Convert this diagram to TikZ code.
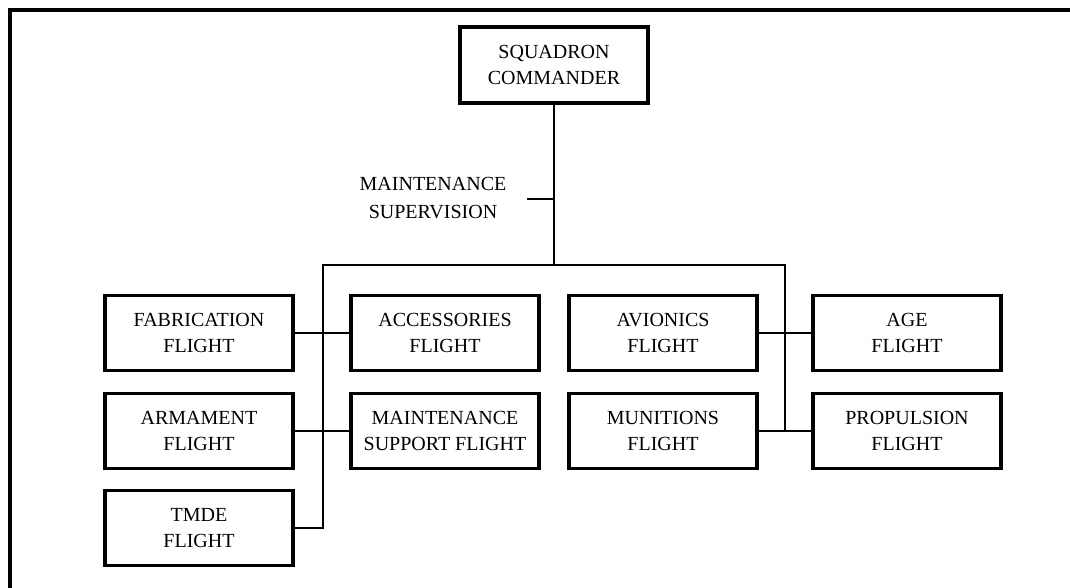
\documentclass[tikz,border=0pt]{standalone}
\usepackage{fontspec}
\setmainfont{Liberation Serif}
\begin{document}
\begin{tikzpicture}[x=0.75pt,y=-0.75pt,
  unitbox/.style={draw, line width=2.4pt, minimum width=141pt, minimum height=56.5pt, inner sep=0pt, align=center, font=\fontsize{15}{19.5}\selectfont},
  topbox/.style={unitbox, minimum width=141pt, minimum height=57pt},
  wire/.style={line width=2.1pt},
  lbl/.style={align=center, inner sep=0pt, font=\fontsize{15}{21}\selectfont}]
\useasboundingbox (0,0) rectangle (1070,587);
\begin{scope}
\clip (0,0) rectangle (1070,587);
\draw[line width=2.3pt] (10,600) -- (10,10) -- (1080,10);
\end{scope}
% nodes
\node[topbox] (sc) at (554,65) {SQUADRON\\COMMANDER};
\node[lbl] (ms) at (433,198) {MAINTENANCE\\SUPERVISION};
\node[unitbox] (fab) at (199,333) {FABRICATION\\FLIGHT};
\node[unitbox] (arm) at (199,431) {ARMAMENT\\FLIGHT};
\node[unitbox] (tmde) at (199,528) {TMDE\\FLIGHT};
\node[unitbox] (acc) at (445,333) {ACCESSORIES\\FLIGHT};
\node[unitbox] (msf) at (445,431) {MAINTENANCE\\SUPPORT FLIGHT};
\node[unitbox] (avi) at (663,333) {AVIONICS\\FLIGHT};
\node[unitbox] (mun) at (663,431) {MUNITIONS\\FLIGHT};
\node[unitbox] (age) at (907,333) {AGE\\FLIGHT};
\node[unitbox] (prop) at (907,431) {PROPULSION\\FLIGHT};
% coordinates
\coordinate (busm) at (554,265);
\coordinate (busl) at (323,265);
\coordinate (busr) at (785,265);
\coordinate (tick) at (527,199);
\coordinate (tickj) at (554,199);
% connectors
\draw[wire] (sc.south) -- (busm);
\draw[wire] (tick) -- (tickj);
\draw[wire] (tmde.east) -| (busl) -- (busr) |- (mun.east);
\draw[wire] (fab.east) -- (acc.west);
\draw[wire] (arm.east) -- (msf.west);
\draw[wire] (avi.east) -- (age.west);
\draw[wire] (mun.east) -- (prop.west);
\end{tikzpicture}
\end{document}
